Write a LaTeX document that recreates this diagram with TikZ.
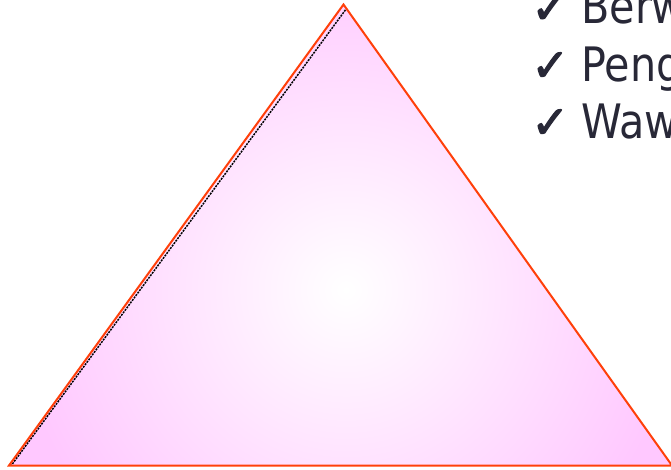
\documentclass[tikz,border=0pt]{standalone}
\usepackage{fontspec}
\setmainfont{DejaVu Sans}
\newfontfamily\narrowsans[FakeStretch=0.87]{DejaVu Sans}
\newfontfamily\tickfont[FakeBold=2.5]{DejaVu Sans}
\usetikzlibrary{positioning}
\definecolor{rimred}{RGB}{255,64,10}
\definecolor{blush}{RGB}{255,200,255}
\definecolor{inkgrey}{RGB}{40,40,55}

\begin{document}
\begin{tikzpicture}[x=0.75pt,y=-0.75pt,
    tick/.style={inner sep=0pt,text=inkgrey,font=\fontsize{34pt}{40pt}\selectfont\tickfont},
    item/.style={inner sep=0pt,text=inkgrey,font=\fontsize{35.6pt}{40pt}\selectfont\narrowsans}]
  \useasboundingbox (0,0) rectangle (671,469);
  \clip (0,0) rectangle (671,469);
  \coordinate (top) at (343.5,4.5);
  \coordinate (bl) at (9,465.5);
  \coordinate (br) at (672,465.5);
  % pink body with a pale centre
  \begin{scope}
    \clip (top) -- (bl) -- (br) -- cycle;
    \fill[blush] (0,0) rectangle (671,469);
    \shade[inner color=white,outer color=blush] (346,290) circle (250pt);
  \end{scope}
  % stepped dark rim on the left side
  \draw[black,line width=1.1pt,dash pattern=on 1.5pt off 0.8pt]
    ([xshift=1.5pt,yshift=-4pt]top) -- ([xshift=1.7pt]bl);
  \draw[rimred,line width=1.5pt] (top) -- (bl) -- (br) -- cycle;
  \foreach \w/\yb [count=\i] in {Berw/23.3,Peng/81,Waw/138}
  {
    \node[tick,anchor=base west] (c\i) at (531,\yb) {✓};
    \node[item,anchor=base west] (w\i) at (581,\yb) {\w};
  }
\end{tikzpicture}
\end{document}
